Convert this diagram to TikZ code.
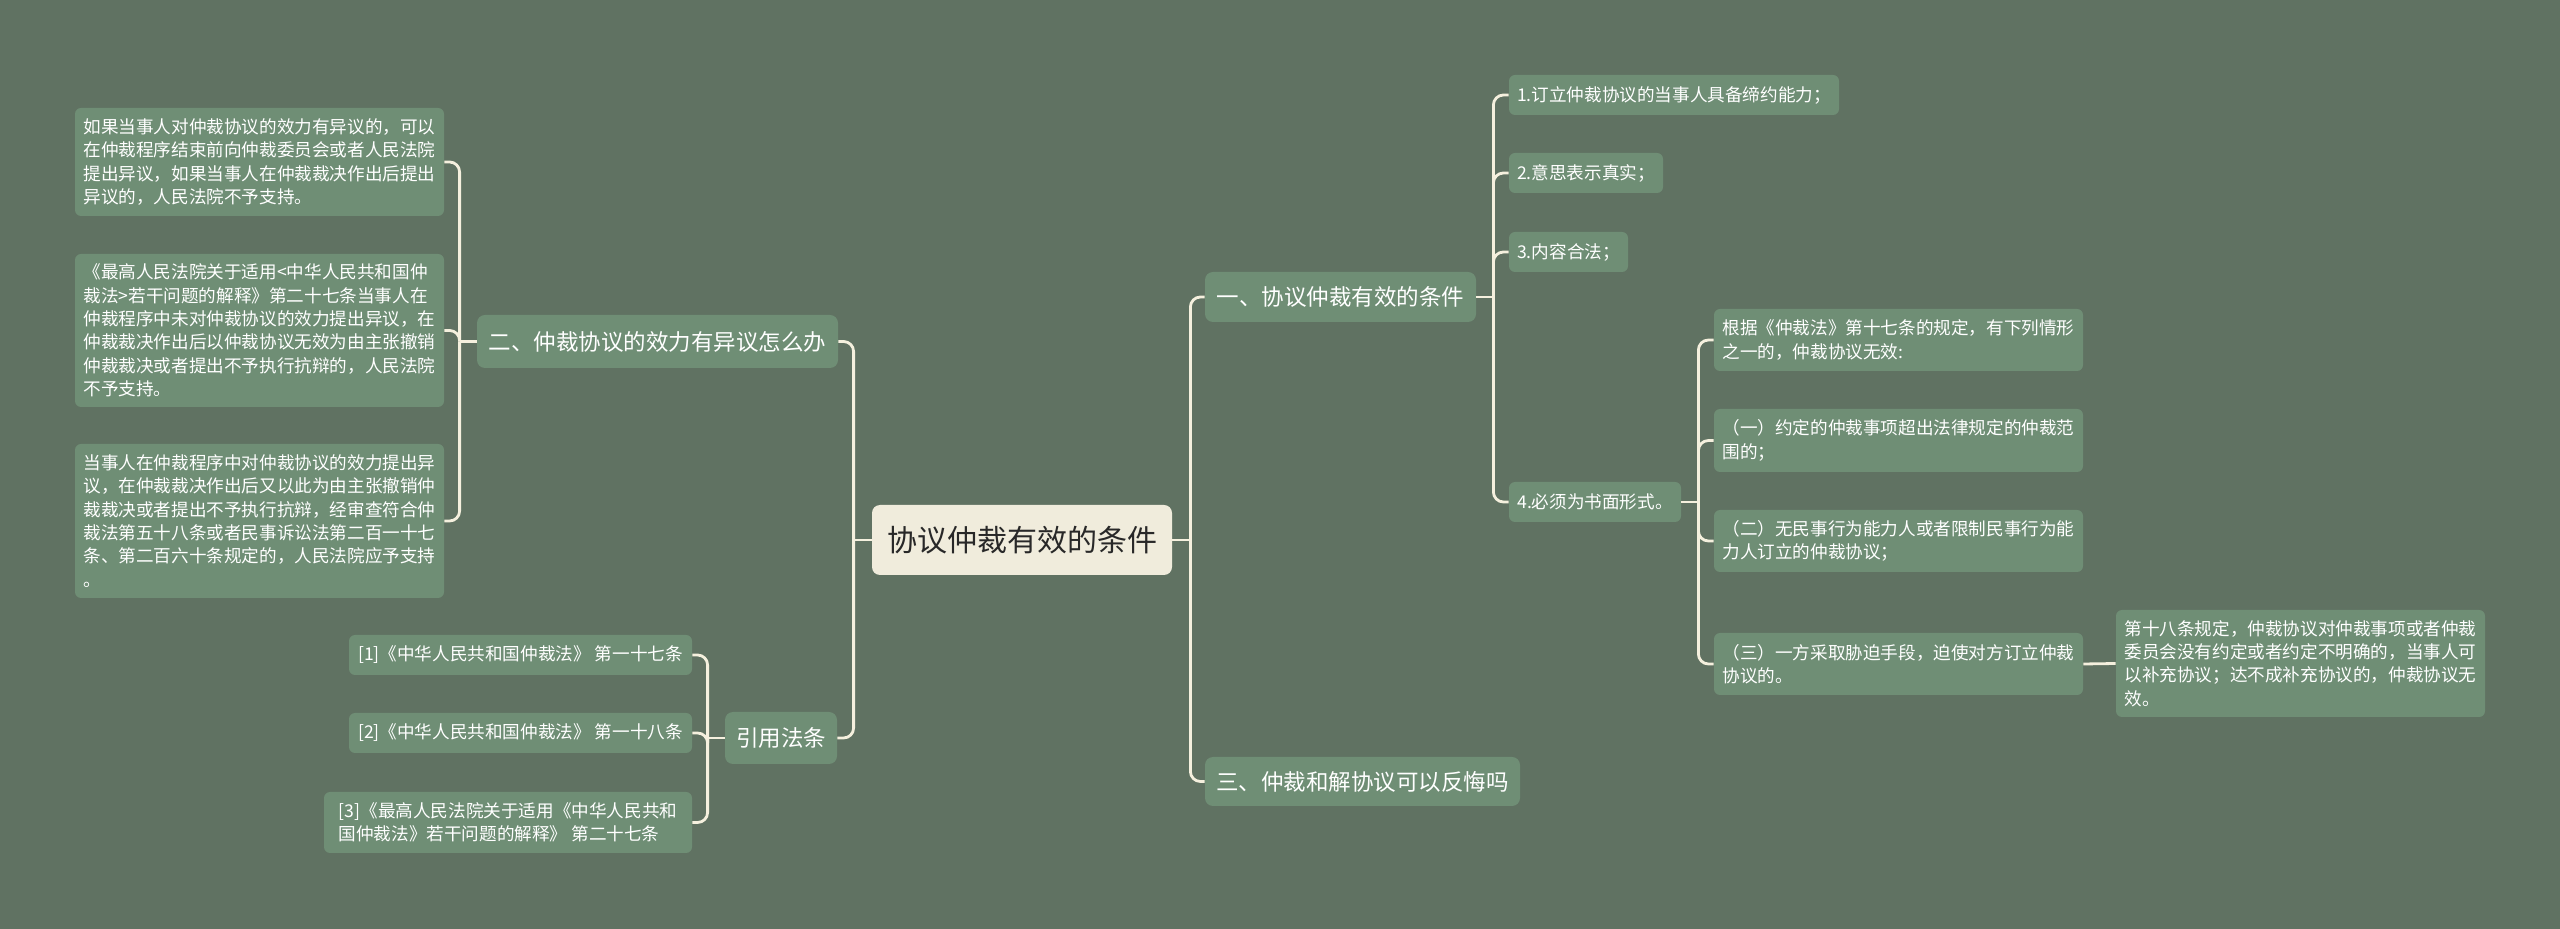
\documentclass[tikz,border=0pt]{standalone}
\usepackage{fontspec}
\usepackage{xcolor}
\usepackage{tikz}
\newfontfamily\cjk{Noto Sans CJK SC}

\definecolor{bgcol}{RGB}{96,114,98}
\definecolor{boxcol}{RGB}{111,142,117}
\definecolor{linecol}{RGB}{245,240,222}
\definecolor{rootcol}{RGB}{240,236,220}
\definecolor{roottext}{RGB}{40,40,40}

\tikzset{
  rootbox/.style={fill=rootcol, rounded corners=4pt, text=roottext, font=\cjk\fontsize{15}{18}\selectfont, inner sep=0pt},
  topic/.style={fill=boxcol, rounded corners=4pt, text=white, font=\cjk\fontsize{11.25}{14}\selectfont, inner sep=0pt, align=left},
  leaf/.style={fill=boxcol, rounded corners=3pt, text=white, font=\cjk\fontsize{8.8}{11.7}\selectfont, inner sep=0pt, align=left},
  link/.style={draw=linecol, line width=1.4pt, rounded corners=5pt},
}

\begin{document}
\begin{tikzpicture}[x=0.5pt, y=-0.5pt]
\fill[bgcol] (0,0) rectangle (2560,929);
\useasboundingbox (0,0) rectangle (2560,929);

% root
\node[rootbox, minimum width=150pt, minimum height=35pt] (root) at (1022,540) {协议仲裁有效的条件};

% right side
\node[topic, minimum width=135.5pt, minimum height=25pt] (one) at (1340.5,297) {一、协议仲裁有效的条件};
\node[topic, minimum width=157.5pt, minimum height=24.5pt] (three) at (1362.5,781.5) {三、仲裁和解协议可以反悔吗};

\node[leaf, minimum width=165pt, minimum height=20pt] (r1) at (1674,95) {1.订立仲裁协议的当事人具备缔约能力；};
\node[leaf, minimum width=77pt, minimum height=20pt] (r2) at (1586,173) {2.意思表示真实；};
\node[leaf, minimum width=59.5pt, minimum height=20pt] (r3) at (1568.5,252) {3.内容合法；};
\node[leaf, minimum width=86pt, minimum height=20pt] (r4) at (1595,502) {4.必须为书面形式。};

\node[leaf, minimum width=184.5pt, minimum height=31pt] (s0) at (1898.5,340) {根据《仲裁法》第十七条的规定，有下列情形\\之一的，仲裁协议无效:};
\node[leaf, minimum width=184.5pt, minimum height=31.5pt] (s1) at (1898.5,440.5) {（一）约定的仲裁事项超出法律规定的仲裁范\\围的；};
\node[leaf, minimum width=184.5pt, minimum height=31pt] (s2) at (1898.5,541) {（二）无民事行为能力人或者限制民事行为能\\力人订立的仲裁协议；};
\node[leaf, minimum width=184.5pt, minimum height=31pt] (s3) at (1898.5,664) {（三）一方采取胁迫手段，迫使对方订立仲裁\\协议的。};

\node[leaf, minimum width=184.5pt, minimum height=53.5pt] (t) at (2300.5,663.5) {第十八条规定，仲裁协议对仲裁事项或者仲裁\\委员会没有约定或者约定不明确的，当事人可\\以补充协议；达不成补充协议的，仲裁协议无\\效。};

% left side
\node[topic, minimum width=180.5pt, minimum height=26.5pt] (two) at (657.5,341.5) {二、仲裁协议的效力有异议怎么办};
\node[topic, minimum width=56pt, minimum height=26pt] (cite) at (781,738) {引用法条};

\node[leaf, minimum width=184.5pt, minimum height=54pt] (a) at (259.5,162) {如果当事人对仲裁协议的效力有异议的，可以\\在仲裁程序结束前向仲裁委员会或者人民法院\\提出异议，如果当事人在仲裁裁决作出后提出\\异议的，人民法院不予支持。};
\node[leaf, minimum width=184.5pt, minimum height=76.5pt] (b) at (259.5,330.5) {《最高人民法院关于适用<中华人民共和国仲\\裁法>若干问题的解释》第二十七条当事人在\\仲裁程序中未对仲裁协议的效力提出异议，在\\仲裁裁决作出后以仲裁协议无效为由主张撤销\\仲裁裁决或者提出不予执行抗辩的，人民法院\\不予支持。};
\node[leaf, minimum width=184.5pt, minimum height=77pt] (c) at (259.5,521) {当事人在仲裁程序中对仲裁协议的效力提出异\\议，在仲裁裁决作出后又以此为由主张撤销仲\\裁裁决或者提出不予执行抗辩，经审查符合仲\\裁法第五十八条或者民事诉讼法第二百一十七\\条、第二百六十条规定的，人民法院应予支持\\。};

\node[leaf, minimum width=171.5pt, minimum height=20pt] (c1) at (520.5,655) {[1]《中华人民共和国仲裁法》 第一十七条};
\node[leaf, minimum width=171.5pt, minimum height=20pt] (c2) at (520.5,733) {[2]《中华人民共和国仲裁法》 第一十八条};
\node[leaf, minimum width=184pt, minimum height=30.5pt] (c3) at (508,822.5) {[3]《最高人民法院关于适用《中华人民共和\\国仲裁法》若干问题的解释》 第二十七条};

% junctions
\coordinate (jr) at ([xshift=9pt]root.east);
\coordinate (jl) at ([xshift=-9pt]root.west);
\coordinate (jone) at ([xshift=8.5pt]one.east);
\coordinate (jfour) at ([xshift=8.5pt]r4.east);
\coordinate (jtwo) at ([xshift=-8.5pt]two.west);
\coordinate (jcite) at ([xshift=-8.5pt]cite.west);

% connectors
\draw[link] (root.east) -- (jr);
\draw[link] (jr) |- (one.west);
\draw[link] (jr) |- (three.west);

\draw[link] (one.east) -- (jone);
\draw[link] (jone) |- (r1.west);
\draw[link] (jone) |- (r2.west);
\draw[link] (jone) |- (r3.west);
\draw[link] (jone) |- (r4.west);

\draw[link] (r4.east) -- (jfour);
\draw[link] (jfour) |- (s0.west);
\draw[link] (jfour) |- (s1.west);
\draw[link] (jfour) |- (s2.west);
\draw[link] (jfour) |- (s3.west);
\draw[link] (s3.east) -- (t.west);

\draw[link] (root.west) -- (jl);
\draw[link] (jl) |- (two.east);
\draw[link] (jl) |- (cite.east);

\draw[link] (two.west) -- (jtwo);
\draw[link] (jtwo) |- (a.east);
\draw[link] (jtwo) |- (b.east);
\draw[link] (jtwo) |- (c.east);

\draw[link] (cite.west) -- (jcite);
\draw[link] (jcite) |- (c1.east);
\draw[link] (jcite) |- (c2.east);
\draw[link] (jcite) |- (c3.east);
\end{tikzpicture}
\end{document}
